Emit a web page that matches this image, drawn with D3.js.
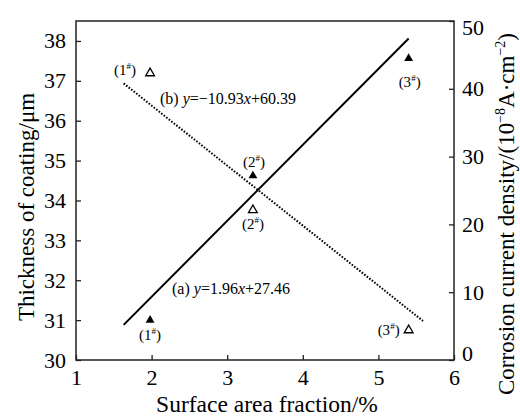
<!DOCTYPE html>
<html><head><meta charset="utf-8">
<script src="https://cdn.jsdelivr.net/npm/d3@7"></script>
<style>
html,body{margin:0;padding:0;background:#fff;}
svg text{font-family:"Liberation Serif","DejaVu Serif",serif !important;fill:#000;}
</style>
</head><body>
<svg id="c" width="520" height="418" font-family="Liberation Serif"></svg>
<script>
// ---- data ----
const xTicks = [1, 2, 3, 4, 5, 6];
const leftTicks = [30, 31, 32, 33, 34, 35, 36, 37, 38];
const rightTicks = [0, 10, 20, 30, 40, 50];
const sampleNames = ["1", "2", "3"];
const areaFraction = [1.98, 3.34, 5.40];
const thickness = [31.0, 34.62, 37.56];          // filled triangles, left axis
const corrosion = [42.3, 22.1, 4.4];             // open triangles, right axis
const fitA_x = [1.63, 5.40], fitA_y = [30.88, 38.06];   // solid line, left axis
const fitB_x = [1.63, 5.59], fitB_y = [40.8, 5.75];     // dotted line, right axis

// ---- layout ----
const L = 76, R = 454, T = 21, B = 360;
const svg = d3.select("#c");
const x = d3.scaleLinear().domain([1, 6]).range([L, R]);
const yL = d3.scaleLinear().domain([30, 38.5]).range([B, T]);
const yR = d3.scaleLinear().domain([0, 50]).range([B, T]);

// axes (inward ticks)
const ax = d3.axisBottom(x).tickValues(xTicks).tickFormat(d3.format("d")).tickSizeInner(-5).tickSizeOuter(0).tickPadding(10);
const gx = svg.append("g").attr("transform", `translate(0,${B})`).call(ax);
const gl = svg.append("g").attr("transform", `translate(${L},0)`)
  .call(d3.axisLeft(yL).tickValues(leftTicks).tickFormat(d3.format("d")).tickSizeInner(-5).tickSizeOuter(0).tickPadding(10));
const gr = svg.append("g").attr("transform", `translate(${R},0)`)
  .call(d3.axisRight(yR).tickValues(rightTicks).tickFormat(d3.format("d")).tickSizeInner(-5).tickSizeOuter(0).tickPadding(8));
[gx, gl, gr].forEach(g => {
  g.attr("font-family", "Liberation Serif").attr("font-size", 22);
  g.select(".domain").remove();
  g.selectAll(".tick line").attr("stroke", "#222").attr("stroke-width", 1.3);
  g.selectAll(".tick text").attr("font-size", 22);
});
gx.selectAll(".tick text").attr("dy", "0.71em").attr("y", 9);
gr.selectAll(".tick text").filter(d => d === 50).attr("dy", "0.62em");
gr.selectAll(".tick text").filter(d => d === 0).attr("dy", "0.02em");
svg.append("rect").attr("x", L).attr("y", T).attr("width", R - L).attr("height", B - T)
  .attr("fill", "none").attr("stroke", "#222").attr("stroke-width", 1.5);

// fitted lines
const lineA = d3.line().x(d => x(d[0])).y(d => yL(d[1]));
const lineB = d3.line().x(d => x(d[0])).y(d => yR(d[1]));
svg.append("path").attr("d", lineA(d3.zip(fitA_x, fitA_y)))
  .attr("fill", "none").attr("stroke", "#000").attr("stroke-width", 2);
svg.append("path").attr("d", lineB(d3.zip(fitB_x, fitB_y)))
  .attr("fill", "none").attr("stroke", "#000").attr("stroke-width", 2).attr("stroke-dasharray", "1.6,1.6");

// markers
const tri = d3.symbol().type(d3.symbolTriangle).size(34);
svg.selectAll(".filled").data(d3.range(3)).join("path")
  .attr("d", tri).attr("transform", i => `translate(${x(areaFraction[i])},${yL(thickness[i])})`)
  .attr("fill", "#000");
svg.selectAll(".open").data(d3.range(3)).join("path")
  .attr("d", tri).attr("transform", i => `translate(${x(areaFraction[i])},${yR(corrosion[i])})`)
  .attr("fill", "#fff").attr("stroke", "#000").attr("stroke-width", 1.3);

// sample labels (offsets in px from markers)
const filledOff = [[0, 20], [1, -9], [1, 29]];
const openOff = [[-25, 2], [0, 19], [-20, 5]];
function sampleLabel(px, py, name) {
  const t = svg.append("text").attr("x", px).attr("y", py).attr("text-anchor", "middle").attr("font-size", 15);
  t.append("tspan").text("(" + name);
  t.append("tspan").attr("font-size", 9).attr("dy", -6).text("#");
  t.append("tspan").attr("dy", 6).text(")");
}
sampleNames.forEach((n, i) => {
  sampleLabel(x(areaFraction[i]) + filledOff[i][0], yL(thickness[i]) + filledOff[i][1], n);
  sampleLabel(x(areaFraction[i]) + openOff[i][0], yR(corrosion[i]) + openOff[i][1], n);
});

// equations
function eq(px, py, parts) {
  const t = svg.append("text").attr("x", px).attr("y", py).attr("font-size", 16);
  parts.forEach(p => t.append("tspan").attr("font-style", p[1] ? "italic" : "normal").text(p[0]));
}
eq(160, 104, [["(b) ", 0], ["y", 1], ["=−10.93", 0], ["x", 1], ["+60.39", 0]]);
eq(172, 294, [["(a) ", 0], ["y", 1], ["=1.96", 0], ["x", 1], ["+27.46", 0]]);

// axis titles
svg.append("text").attr("x", (L + R) / 2 + 2).attr("y", 412).attr("text-anchor", "middle")
  .attr("font-size", 23.5).text("Surface area fraction/%");
svg.append("text").attr("transform", "translate(34,207) rotate(-90)").attr("text-anchor", "middle")
  .attr("font-size", 23).text("Thickness of coating/μm");
const rt = svg.append("text").attr("transform", "translate(514,214) rotate(-90)").attr("text-anchor", "middle")
  .attr("font-size", 23);
rt.append("tspan").text("Corrosion current density/(10");
rt.append("tspan").attr("font-size", 14).attr("dy", -9).text("−8");
rt.append("tspan").attr("dy", 9).text("A·cm");
rt.append("tspan").attr("font-size", 14).attr("dy", -9).text("−2");
rt.append("tspan").attr("dy", 9).text(")");
</script>
</body></html>
